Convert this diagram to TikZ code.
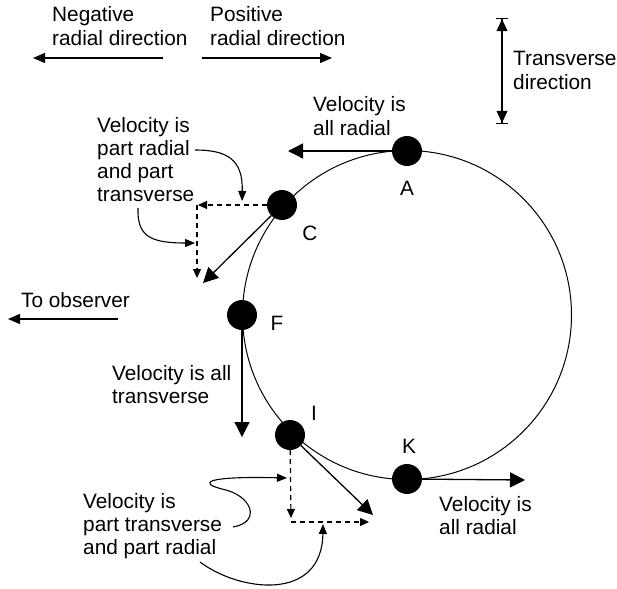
\documentclass[tikz,border=0pt]{standalone}
\usepackage{fontspec}
\setmainfont{Liberation Sans}
\usetikzlibrary{arrows.meta}
\begin{document}
\begin{tikzpicture}[x=1pt,y=-1pt,
 font=\fontsize{20.8}{23.3}\selectfont,
 txt/.style={anchor=base west, align=left, inner sep=0pt},
 dot/.style={circle, fill=black, minimum size=30pt, inner sep=0pt},
 lbl/.style={anchor=base, inner sep=0pt},
 vel/.style={line width=1.3pt, -{Triangle[length=15pt,width=15pt]}},
 dir/.style={line width=1.2pt, -{Triangle[length=12pt,width=10pt]}},
 comp/.style={line width=1.2pt, dash pattern=on 5pt off 4pt, -{Triangle[length=9pt,width=8pt]}},
 note/.style={line width=1.1pt, -{Triangle[length=10pt,width=8pt]}},
]
\useasboundingbox (0,0) rectangle (617,588);
% orbit
\coordinate (O) at (407,315);
\draw[line width=1pt] (O) circle[radius=164.5pt];
% top direction arrows (base anchor = last line)
\node[txt] (neg) at (52,45.3) {Negative\\radial direction};
\node[txt] (pos) at (210,45.3) {Positive\\radial direction};
\coordinate (negS) at (163,58); \coordinate (negE) at (33,58);
\coordinate (posS) at (202,58); \coordinate (posE) at (332,58);
\draw[dir] (negS) -- (negE);
\draw[dir] (posS) -- (posE);
% transverse
\coordinate (trT) at (502,18); \coordinate (trB) at (502,124);
\draw[line width=1.2pt, {Bar[width=12pt]Triangle[length=12pt,width=11pt]}-{Triangle[length=12pt,width=11pt]Bar[width=12pt]}] (trT) -- (trB);
\node[txt] (trtxt) at (513,89.3) {Transverse\\direction};
% observer
\node[txt] (obs) at (21,307) {To observer};
\coordinate (obsS) at (118,319); \coordinate (obsE) at (8,319);
\draw[dir] (obsS) -- (obsE);
% velocity vectors (free ends)
\coordinate (Ae) at (288,151);
\coordinate (Ce) at (203,283);
\coordinate (Cc) at (197,205);
\coordinate (Ch) at (198,205);
\coordinate (Cv) at (197,278);
\coordinate (Fe) at (242,437);
\coordinate (Ie) at (373,515);
\coordinate (Ic) at (291,522);
\coordinate (Iv) at (291,518);
\coordinate (Ih) at (369,522);
\coordinate (Ke) at (525,480);
% dots
\node[dot] (A) at (407,151) {};
\node[dot] (C) at (282,205) {};
\node[dot] (F) at (242,315) {};
\node[dot] (I) at (290,435) {};
\node[dot] (K) at (407,479) {};
% labels
\node[lbl] (lA) at (407,195) {A};
\node[lbl] (lC) at (310,240) {C};
\node[lbl] (lF) at (277,330) {F};
\node[lbl] (lI) at (314,420) {I};
\node[lbl] (lK) at (409,453) {K};
% arrows
\draw[vel] (A) -- (Ae);
\draw[vel] (C) -- (Ce);
\draw[comp] (C) -- (Ch);
\draw[comp] (Cc) -- (Cv);
\draw[vel] (F) -- (Fe);
\draw[vel] (I) -- (Ie);
\draw[comp] (I) -- (Iv);
\draw[comp] (Ic) -- (Ih);
\draw[vel] (K) -- (Ke);
% texts
\node[txt] (tA) at (313,135.3) {Velocity is\\all radial};
\node[txt] (tC) at (97,201.9) {Velocity is\\part radial\\and part\\transverse};
\node[txt] (tF) at (112,403.3) {Velocity is all\\transverse};
\node[txt] (tI) at (83,554.6) {Velocity is\\part transverse\\and part radial};
\node[txt] (tK) at (439,534.3) {Velocity is\\all radial};
% annotation curves
\coordinate (c1s) at (195,150); \coordinate (c1e) at (242,201);
\draw[note] (c1s) .. controls (228,150) and (243,160) .. (c1e);
\coordinate (c2s) at (138,208); \coordinate (c2e) at (195,243);
\draw[note] (c2s) .. controls (137,236) and (150,243) .. (c2e);
\coordinate (i1s) at (233,527); \coordinate (i1m) at (222,489); \coordinate (i1e) at (287,478);
\draw[note] (i1s) .. controls (262,522) and (252,495) .. (i1m) .. controls (198,483) and (205,476) .. (i1e);
\coordinate (i2s) at (200,562); \coordinate (i2e) at (323,524);
\draw[note] (i2s) .. controls (240,592) and (322,602) .. (i2e);
\end{tikzpicture}
\end{document}
